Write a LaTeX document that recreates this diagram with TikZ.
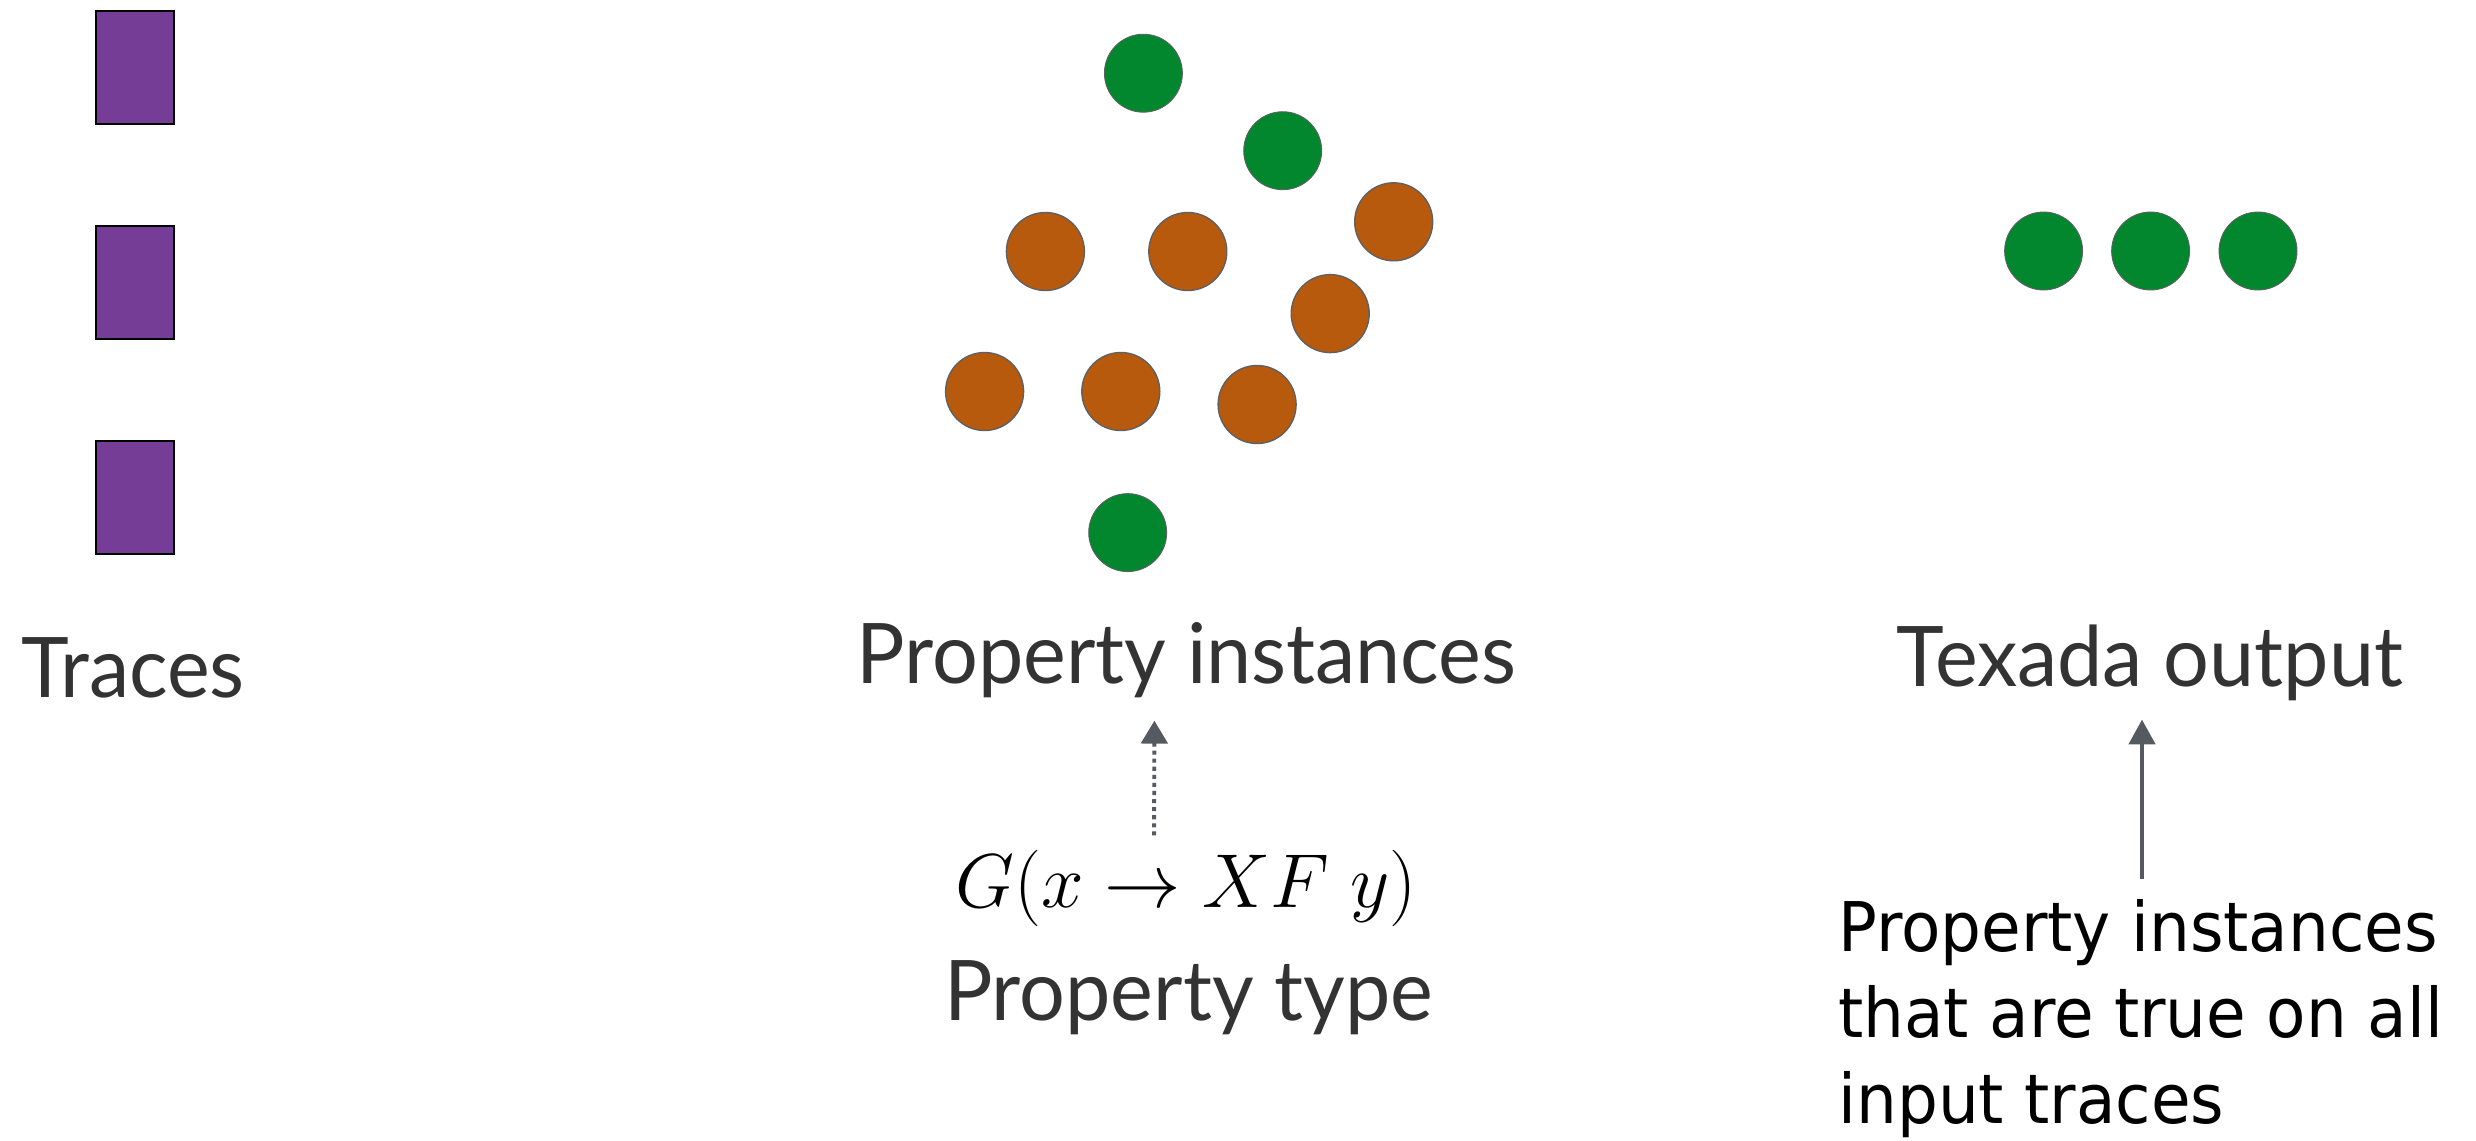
\documentclass[tikz,border=0pt]{standalone}
\usepackage[no-math]{fontspec}
\usepackage{graphicx}
\setmainfont{Lato}[FakeStretch=0.967]
\newfontfamily\descfont[FakeStretch=0.94]{DejaVu Sans}
\usetikzlibrary{arrows.meta}
\definecolor{tracepurple}{HTML}{763D96}
\definecolor{gcol}{HTML}{03872E}
\definecolor{ocol}{HTML}{B85A0D}
\definecolor{dotborder}{HTML}{5F6062}
\definecolor{labeltext}{HTML}{333333}
\definecolor{arrowgray}{HTML}{555A60}
\begin{document}
\begin{tikzpicture}[x=0.02cm,y=-0.02cm,
  tracebox/.style={draw=black,line width=0.8pt,fill=tracepurple,minimum width=1.56cm,minimum height=2.26cm,inner sep=0},
  greendot/.style={circle,draw=dotborder,line width=0.5pt,fill=gcol,minimum size=1.56cm,inner sep=0},
  orangedot/.style={circle,draw=dotborder,line width=0.8pt,fill=ocol,minimum size=1.56cm,inner sep=0},
  lbl/.style={text=labeltext,font=\fontsize{47.6pt}{57pt}\selectfont,inner sep=0,anchor=base},
  dotarrow/.style={draw=arrowgray,line width=2.2pt,dash pattern=on 2.3pt off 2.3pt,-{Triangle[length=13pt,width=15pt]}},
  solidarrow/.style={draw=arrowgray,line width=1.8pt,-{Triangle[length=14pt,width=15pt]}}
]
\useasboundingbox (0,0) rectangle (2476,1140);
% traces
\node[tracebox] (t1) at (135,67.5) {};
\node[tracebox] (t2) at (135,282.5) {};
\node[tracebox] (t3) at (135,497.5) {};
\node[lbl] (traces) at (133,697) {Traces};
% property instances
\node[greendot] (g1) at (1143.4,73.2) {};
\node[greendot] (g2) at (1282.7,150.7) {};
\node[orangedot] (o1) at (1045.4,251.5) {};
\node[orangedot] (o2) at (1187.8,251.5) {};
\node[orangedot] (o3) at (1393.7,221.8) {};
\node[orangedot] (o4) at (1330.2,313.6) {};
\node[orangedot] (o5) at (984.6,391.5) {};
\node[orangedot] (o6) at (1120.8,391.5) {};
\node[orangedot] (o7) at (1257.1,404.5) {};
\node[greendot] (g3) at (1127.7,532.6) {};
\node[lbl] (pi) at (1186.5,683) {Property instances};
\node[inner sep=0,anchor=base] (ptf) at (1186,907) {\scalebox{1.748}{\Huge$G(x \rightarrow XF\;y)$}};
\node[lbl] (ptype) at (1188.5,1020) {Property type};
\draw[dotarrow,shorten <=0.28cm,shorten >=0.46cm] ([xshift=-0.64cm]ptf.north) -- ([xshift=-0.64cm]pi.south);
% texada output
\node[greendot] (r1) at (2043.6,251) {};
\node[greendot] (r2) at (2150.6,251) {};
\node[greendot] (r3) at (2258,251) {};
\node[lbl] (texada) at (2150,686) {Texada output};
\node[inner sep=0,anchor=base west,align=left,text=black,font=\descfont\fontsize{39pt}{48.9pt}\selectfont] (desc) at (1838,1123) {Property instances\\that are true on all\\input traces};
\draw[solidarrow,shorten <=0.4cm,shorten >=0.38cm] ([xshift=-0.16cm]texada.south |- desc.north) -- ([xshift=-0.16cm]texada.south);
\end{tikzpicture}
\end{document}
